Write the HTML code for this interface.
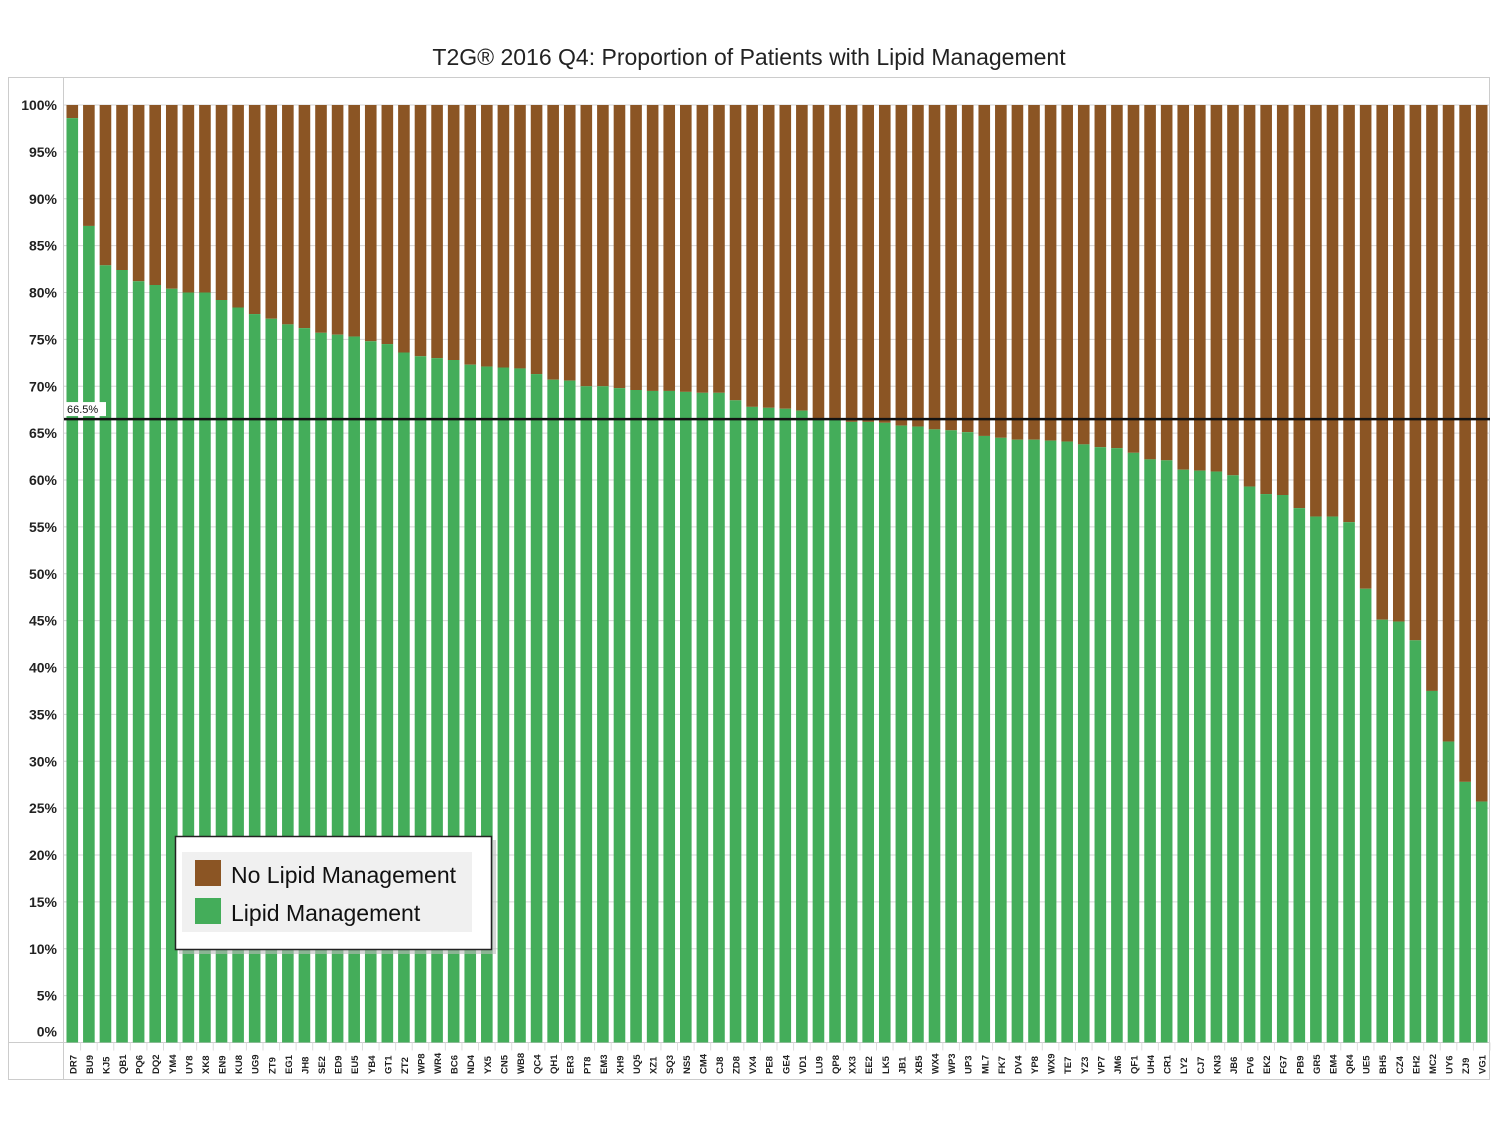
<!DOCTYPE html>
<html><head><meta charset="utf-8"><style>
body{margin:0;background:#fff;width:1500px;height:1125px;overflow:hidden;font-family:"Liberation Sans","DejaVu Sans",sans-serif}
</style></head><body>
<svg id="c" width="1500" height="1125" xmlns="http://www.w3.org/2000/svg">
<text x="749" y="65" text-anchor="middle" font-size="23" fill="#222">T2G® 2016 Q4: Proportion of Patients with Lipid Management</text>
<rect x="8.5" y="77.5" width="1481" height="1002" fill="none" stroke="#ccc"/>
<line x1="63.5" y1="77" x2="63.5" y2="1080" stroke="#ccc"/>
<line x1="8" y1="1042.5" x2="1490" y2="1042.5" stroke="#ccc"/>
<g id="grid"></g><g id="bars"></g><g id="ylab"></g><g id="xlab"></g><g id="ref"></g>
<g>
<rect x="179" y="840" width="317" height="114" fill="#bbb" opacity="0.6"/>
<rect x="175.5" y="836.5" width="316" height="113" fill="#fff" stroke="#222" stroke-width="1.5"/>
<rect x="182" y="852" width="290" height="80" fill="#f0f0f0"/>
<rect x="195" y="860" width="26" height="26" fill="#8b5524"/>
<text x="231" y="883" font-size="23" fill="#111">No Lipid Management</text>
<rect x="195" y="898" width="26" height="26" fill="#44ad5a"/>
<text x="231" y="921" font-size="23" fill="#111">Lipid Management</text>
</g>
</svg>
<script>
const categories=["DR7","BU9","KJ5","QB1","PQ6","DQ2","YM4","UY8","XK8","EN9","KU8","UG9","ZT9","EG1","JH8","SE2","ED9","EU5","YB4","GT1","ZT2","WP8","WR4","BC6","ND4","YX5","CN5","WB8","QC4","QH1","ER3","PT8","EM3","XH9","UQ5","XZ1","SQ3","NS5","CM4","CJ8","ZD8","VX4","PE8","GE4","VD1","LU9","QP8","XX3","EE2","LK5","JB1","XB5","WX4","WP3","UP3","ML7","FK7","DV4","YP8","WX9","TE7","YZ3","VP7","JM6","QF1","UH4","CR1","LY2","CJ7","KN3","JB6","FV6","EK2","FG7","PB9","GR5","EM4","QR4","UE5","BH5","CZ4","EH2","MC2","UY6","ZJ9","VG1"];
const lipidValues=[98.6,87.1,82.9,82.4,81.2,80.8,80.4,80.0,80.0,79.2,78.4,77.7,77.2,76.6,76.2,75.7,75.5,75.3,74.8,74.5,73.6,73.2,73.0,72.8,72.3,72.1,72.0,71.9,71.3,70.7,70.6,70.0,70.0,69.8,69.6,69.5,69.5,69.4,69.3,69.3,68.5,67.8,67.7,67.6,67.4,66.6,66.5,66.2,66.2,66.1,65.8,65.7,65.4,65.3,65.1,64.7,64.5,64.3,64.3,64.2,64.1,63.8,63.5,63.4,62.9,62.2,62.1,61.1,61.0,60.9,60.5,59.3,58.5,58.4,57.0,56.1,56.1,55.5,48.4,45.1,44.9,42.9,37.5,32.1,27.8,25.7];
const yTicks=[0,5,10,15,20,25,30,35,40,45,50,55,60,65,70,75,80,85,90,95,100];
const refValue=66.5;
const NS="http://www.w3.org/2000/svg";
const X0=64,X1=1490,Y0=1042.5,Y100=105;
const y=v=>Y0-(Y0-Y100)*v/100;
const step=(X1-X0)/categories.length;
const xc=i=>X0+step*(i+0.5);
function mk(t,a,p){const e=document.createElementNS(NS,t);for(const k in a)e.setAttribute(k,a[k]);p.appendChild(e);return e;}
const G=document.getElementById('grid'),B=document.getElementById('bars'),YL=document.getElementById('ylab'),XL=document.getElementById('xlab'),R=document.getElementById('ref');
yTicks.forEach(t=>{
 if(t>0){const l=mk('line',{x1:X0,x2:X1,y1:y(t),y2:y(t),stroke:'#d6d6d6'},G);
 
 }
 const tx=mk('text',{x:57,y:(t===0?y(t)-6:y(t)+5),'text-anchor':'end','font-size':14,'font-weight':'bold',fill:'#222'},YL);
 tx.textContent=t+'%';
 
 
});
const bw=step*0.7;
categories.forEach((c,i)=>{
 const v=lipidValues[i];
 const n=mk('rect',{x:xc(i)-bw/2,y:y(100),width:bw,height:y(v)-y(100),fill:'#8b5524'},B);
 
 
 const g=mk('rect',{x:xc(i)-bw/2,y:y(v),width:bw,height:Y0-y(v),fill:'#44ad5a'},B);
 
 
 const tk=mk('line',{x1:X0+step*(i+1),x2:X0+step*(i+1),y1:Y0,y2:Y0+8,stroke:'#ddd'},XL);
 const tx=mk('text',{transform:`translate(${xc(i)+4},1074) rotate(-90)`,'font-size':9.5,'font-weight':'bold',fill:'#222'},XL);
 tx.textContent=c;
 
 
});
const rl=mk('line',{x1:X0,x2:X1,y1:y(refValue),y2:y(refValue),stroke:'#111','stroke-width':2.5},R);


const rb=mk('rect',{x:X0+1,y:y(refValue)-17,width:41,height:14,fill:'#fff'},R);
const rt=mk('text',{x:X0+3,y:y(refValue)-6,'font-size':11,fill:'#111'},R);
rt.textContent=refValue+'%';


</script>
</body></html>
